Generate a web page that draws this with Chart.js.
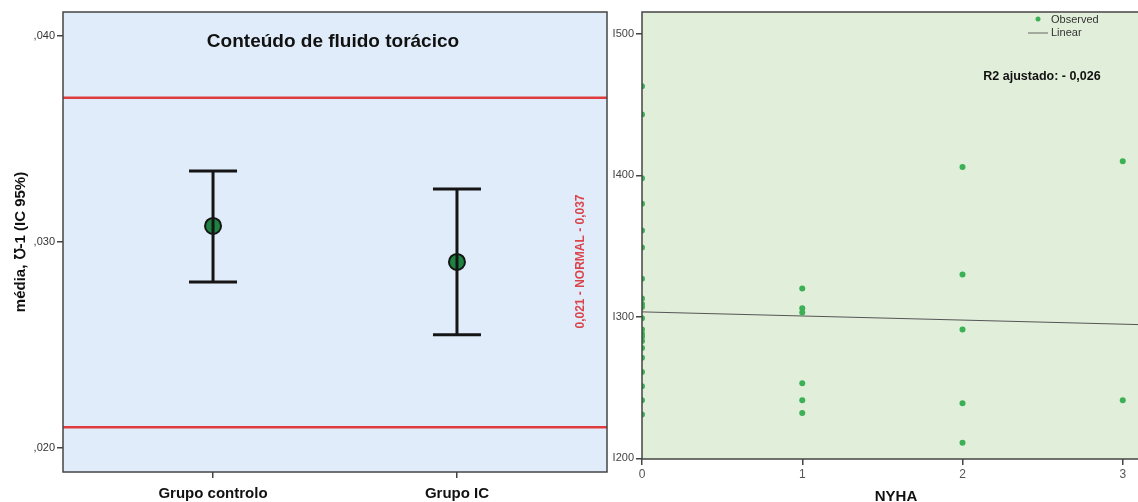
<!DOCTYPE html>
<html lang="pt">
<head>
<meta charset="utf-8">
<script src="https://cdn.jsdelivr.net/npm/chart.js@4.4.1/dist/chart.umd.min.js"></script>
<style>
  html, body { margin: 0; padding: 0; background: #fff; overflow: hidden; }
  #wrap { position: relative; width: 1138px; height: 502px; overflow: hidden; }
  #esq { position: absolute; left: 0; top: 0; }
  #dir { position: absolute; left: 612px; top: 0; }
</style>
</head>
<body>
<div id="wrap">
  <canvas id="esq" width="612" height="502"></canvas>
  <canvas id="dir" width="545" height="502"></canvas>
</div>
<script>
// painel esquerdo - média e IC 95%
const grupos = ['Grupo controlo', 'Grupo IC'];
const medias = [0.03078, 0.02903];
const icInferior = [0.02806, 0.02549];
const icSuperior = [0.03345, 0.03257];
const limitesNormal = [0.021, 0.037];
const ticksEsq = [0.020, 0.030, 0.040];
const rotulosEsq = [',020', ',030', ',040'];

// painel direito - NYHA
const classesNyha = [0, 1, 2, 3];
const obsNyha0 = [463, 443, 398, 380, 361, 349, 327, 313, 309, 307, 299, 291, 288, 286, 283, 278, 271, 261, 251, 241, 231];
const obsNyha1 = [320, 306, 303, 253, 241, 232];
const obsNyha2 = [406, 330, 291, 239, 211];
const obsNyha3 = [410, 241];
const ticksDir = [200, 300, 400, 500];
const rotulosDir = ['I200', 'I300', 'I400', 'I500'];
const retaIntercepto = 303.5;
const retaDeclive = -2.9;

const FONTE = '"Liberation Sans", Arial, sans-serif';
Chart.defaults.font.family = FONTE;
Chart.defaults.animation = false;
Chart.defaults.events = [];

const X_ESQ = [-0.615, 1.615];
const X_DIR = [0, 3.17];

// fundo e moldura da área do gráfico
const moldura = {
    id: 'moldura',
    beforeDraw(chart, args, opts) {
        const { ctx, chartArea: a } = chart;
        ctx.save();
        ctx.fillStyle = opts.fundo;
        ctx.fillRect(a.left, a.top, a.right - a.left, a.bottom - a.top);
        ctx.restore();
    },
    afterDraw(chart, args, opts) {
        const { ctx, chartArea: a } = chart;
        ctx.save();
        ctx.strokeStyle = opts.borda;
        ctx.lineWidth = 1.5;
        ctx.strokeRect(a.left, a.top, a.right - a.left, a.bottom - a.top);
        ctx.restore();
    }
};

// textos soltos dentro da área
const textos = {
    id: 'textos',
    afterDraw(chart, args, opts) {
        const { ctx, chartArea: a } = chart;
        (opts.itens || []).forEach(t => {
            ctx.save();
            ctx.translate(a.left + t.dx, a.top + t.dy);
            if (t.rot) ctx.rotate(t.rot);
            ctx.font = t.font;
            ctx.fillStyle = t.cor;
            ctx.textAlign = 'center';
            ctx.textBaseline = 'middle';
            ctx.fillText(t.texto, 0, 0);
            ctx.restore();
        });
    }
};

// legenda pequena no canto
const legendaDir = {
    id: 'legendaDir',
    afterDraw(chart) {
        const { ctx, chartArea: a } = chart;
        const ds = chart.data.datasets;
        ctx.save();
        ctx.fillStyle = '#3cb054';
        ctx.beginPath();
        ctx.arc(a.left + 396, a.top + 7, 2.5, 0, Math.PI * 2);
        ctx.fill();
        ctx.strokeStyle = '#666';
        ctx.lineWidth = 1;
        ctx.beginPath();
        ctx.moveTo(a.left + 386, a.top + 21);
        ctx.lineTo(a.left + 406, a.top + 21);
        ctx.stroke();
        ctx.font = '11px ' + FONTE;
        ctx.fillStyle = '#333';
        ctx.textBaseline = 'middle';
        ctx.fillText(ds[0].label, a.left + 409, a.top + 8);
        ctx.fillText(ds[1].label, a.left + 409, a.top + 21);
        ctx.restore();
    }
};

// ---------- gráfico da esquerda ----------
const datasetsEsq = [];
limitesNormal.forEach(v => {
    datasetsEsq.push({
        data: [{ x: X_ESQ[0], y: v }, { x: X_ESQ[1], y: v }],
        showLine: true,
        borderColor: '#e03c3f',
        borderWidth: 2.5,
        pointRadius: 0
    });
});
grupos.forEach((g, i) => {
    datasetsEsq.push({
        data: [{ x: i, y: icInferior[i] }, { x: i, y: icSuperior[i] }],
        showLine: true,
        borderColor: '#151515',
        borderWidth: 3,
        pointStyle: 'line',
        pointRadius: 24,
        pointBorderWidth: 3,
        pointBorderColor: '#151515'
    });
});
datasetsEsq.push({
    data: medias.map((m, i) => ({ x: i, y: m })),
    pointRadius: 8,
    pointBackgroundColor: '#1e8240',
    pointBorderColor: '#151515',
    pointBorderWidth: 2
});

new Chart(document.getElementById('esq'), {
    type: 'scatter',
    data: { datasets: datasetsEsq },
    options: {
        responsive: false,
        layout: { autoPadding: false, padding: { left: 0, top: 12, right: 5, bottom: 0 } },
        plugins: {
            legend: { display: false },
            tooltip: { enabled: false },
            moldura: { fundo: '#e0ecf9', borda: '#444' },
            textos: {
                itens: [
                    { texto: 'Conteúdo de fluido torácico', dx: 270, dy: 30, font: 'bold 19px ' + FONTE, cor: '#111' },
                    { texto: '0,021 - NORMAL - 0,037', dx: 518, dy: 249.5, rot: -Math.PI / 2, font: 'bold 12px ' + FONTE, cor: '#da454b' }
                ]
            }
        },
        scales: {
            x: {
                type: 'linear',
                min: X_ESQ[0],
                max: X_ESQ[1],
                afterBuildTicks: s => { s.ticks = grupos.map((g, i) => ({ value: i })); },
                afterFit: s => { s.height = 30; },
                ticks: {
                    callback: (v, i) => grupos[i],
                    color: '#111',
                    font: { size: 15, weight: 'bold' },
                    padding: 7,
                    maxRotation: 0
                },
                grid: { drawOnChartArea: false, tickLength: 6, color: '#444', lineWidth: 1.5 },
                border: { display: false }
            },
            y: {
                min: 0.01883,
                max: 0.04117,
                afterBuildTicks: s => { s.ticks = ticksEsq.map(v => ({ value: v })); },
                afterFit: s => { s.width = 63; },
                ticks: {
                    callback: (v, i) => rotulosEsq[i],
                    color: '#333',
                    font: { size: 11 },
                    padding: 2
                },
                grid: { drawOnChartArea: false, tickLength: 6, color: '#444', lineWidth: 1.5 },
                border: { display: false },
                title: {
                    display: true,
                    text: 'média, ℧-1 (IC 95%)',
                    color: '#111',
                    font: { size: 15, weight: 'bold' },
                    padding: { top: 12, bottom: 0 }
                }
            }
        }
    },
    plugins: [moldura, textos]
});

// ---------- gráfico da direita ----------
const listasNyha = [obsNyha0, obsNyha1, obsNyha2, obsNyha3];
const observados = [];
classesNyha.forEach((c, i) => {
    listasNyha[i].forEach(v => observados.push({ x: c, y: v }));
});

new Chart(document.getElementById('dir'), {
    type: 'scatter',
    data: {
        datasets: [
            {
                label: 'Observed',
                data: observados,
                pointRadius: 3,
                pointBackgroundColor: '#3cb054',
                pointBorderWidth: 0,
                clip: 0
            },
            {
                label: 'Linear',
                data: X_DIR.map(x => ({ x: x, y: retaIntercepto + retaDeclive * x })),
                showLine: true,
                borderColor: '#555',
                borderWidth: 1,
                pointRadius: 0
            }
        ]
    },
    options: {
        responsive: false,
        layout: { autoPadding: false, padding: { left: 0, top: 12, right: 7, bottom: 0 } },
        plugins: {
            legend: { display: false },
            tooltip: { enabled: false },
            moldura: { fundo: '#e1eed9', borda: '#444' },
            textos: {
                itens: [
                    { texto: 'R2 ajustado: - 0,026', dx: 400, dy: 64.5, font: 'bold 12.5px ' + FONTE, cor: '#111' }
                ]
            }
        },
        scales: {
            x: {
                type: 'linear',
                min: X_DIR[0],
                max: X_DIR[1],
                afterBuildTicks: s => { s.ticks = classesNyha.map(v => ({ value: v })); },
                afterFit: s => { s.height = 43; },
                ticks: { color: '#555', font: { size: 12 }, padding: 2 },
                grid: { drawOnChartArea: false, tickLength: 6, color: '#444', lineWidth: 1.5 },
                border: { display: false },
                title: {
                    display: true,
                    text: 'NYHA',
                    color: '#111',
                    font: { size: 15, weight: 'bold' },
                    padding: { top: 0, bottom: -4 }
                }
            },
            y: {
                min: 199.5,
                max: 515.5,
                afterBuildTicks: s => { s.ticks = ticksDir.map(v => ({ value: v })); },
                afterFit: s => { s.width = 30; },
                ticks: {
                    callback: (v, i) => rotulosDir[i],
                    color: '#444',
                    font: { size: 11 },
                    padding: 2
                },
                grid: { drawOnChartArea: false, tickLength: 6, color: '#444', lineWidth: 1.5 },
                border: { display: false }
            }
        }
    },
    plugins: [moldura, textos, legendaDir]
});
</script>
</body>
</html>
